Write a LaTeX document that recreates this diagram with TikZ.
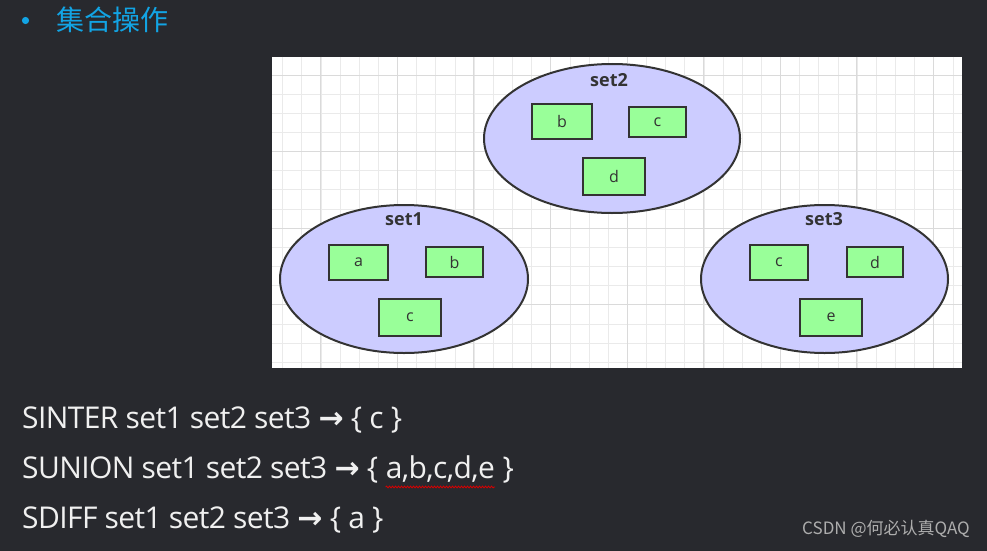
\documentclass[tikz,border=0pt]{standalone}
\usepackage{fontspec}
\setmainfont{Open Sans}
\newfontfamily\cmdfont[LetterSpace=-2]{Open Sans}
\newfontfamily\cjk{Noto Sans CJK SC}
\newfontfamily\arr{DejaVu Sans}
\usetikzlibrary{shapes.geometric,decorations.pathmorphing}
\definecolor{bg}{HTML}{28292E}
\definecolor{cyanT}{HTML}{12A4E4}
\definecolor{setfill}{HTML}{CCCCFF}
\definecolor{elfill}{HTML}{99FF99}
\definecolor{edge}{HTML}{333333}
\definecolor{gridminor}{HTML}{EAEAEA}
\definecolor{gridmajor}{HTML}{DADADA}
\tikzset{
  setshape/.style={ellipse, draw=edge, line width=2pt, fill=setfill, inner sep=0pt},
  elem/.style={rectangle, draw=edge, line width=2.6pt, fill=elfill, inner sep=0pt,
    font=\fontsize{16}{16}\selectfont, text=edge},
  setlabel/.style={font=\fontsize{18}{18}\selectfont\bfseries, text=edge, inner sep=0pt},
  cmd/.style={anchor=base west, inner sep=0pt, text=white!94!black, font=\cmdfont\fontsize{30}{30}\selectfont}
}
\begin{document}
\begin{tikzpicture}[x=1pt,y=-1pt]
\fill[bg] (0,0) rectangle (987,551);
\useasboundingbox (0,0) rectangle (987,551);
% panel
\fill[white] (272,57) rectangle (962,368);
\begin{scope}
\clip (272,57) rectangle (962,368);
\foreach \i in {-1,...,36} {
  \draw[gridminor, line width=0.9pt] ({282.7+19.15*\i},57) -- ({282.7+19.15*\i},368);
}
\foreach \j in {-1,...,16} {
  \draw[gridminor, line width=0.9pt] (272,{75+19.15*\j}) -- (962,{75+19.15*\j});
}
\foreach \i in {-1,...,9} {
  \draw[gridmajor, line width=0.9pt] ({320.7+76.6*\i},57) -- ({320.7+76.6*\i},368);
}
\foreach \j in {0,...,4} {
  \draw[gridmajor, line width=0.9pt] (272,{75+76.6*\j}) -- (962,{75+76.6*\j});
}
\end{scope}
% sets
\node[setshape, minimum width=256pt, minimum height=149pt] (s2) at (612,138.5) {};
\node[setshape, minimum width=248pt, minimum height=148pt] (s1) at (404,279) {};
\node[setshape, minimum width=247pt, minimum height=148pt] (s3) at (824.5,279) {};
\node[setlabel] (l2) at (609,80) {set2};
\node[setlabel] (l1) at (404,219) {set1};
\node[setlabel] (l3) at (824,219) {set3};
% elements set2
\node[elem, minimum width=60pt, minimum height=35pt] (s2b) at (562,121.5) {b};
\node[elem, minimum width=57pt, minimum height=30pt] (s2c) at (657.5,122) {c};
\node[elem, minimum width=62pt, minimum height=37pt] (s2d) at (614,176.5) {d};
% set1
\node[elem, minimum width=59pt, minimum height=35pt] (s1a) at (358.5,262.5) {a};
\node[elem, minimum width=57pt, minimum height=30pt] (s1b) at (454.5,262) {b};
\node[elem, minimum width=62pt, minimum height=37pt] (s1c) at (410,317.5) {c};
% set3
\node[elem, minimum width=58pt, minimum height=35pt] (s3c) at (779,262.5) {c};
\node[elem, minimum width=56pt, minimum height=30pt] (s3d) at (875,262) {d};
\node[elem, minimum width=62pt, minimum height=37pt] (s3e) at (831,317.5) {e};
% title
\fill[cyanT] (25.5,20.5) circle (3.6pt);
\node[anchor=west, inner sep=0pt, text=cyanT, font=\cjk\fontsize{28}{28}\selectfont] (title) at (56,20) {集合操作};
% commands
\node[cmd] (c1) at (22,428) {SINTER set1 set2 set3 {\arr\bfseries →} \{ c \}};
\node[cmd] (c2a) at (22,478) {SUNION set1 set2 set3 {\arr\bfseries →} \{\ \null};
\node[cmd] (c2b) at (c2a.base east) {a,b,c,d,e};
\node[cmd] (c2c) at (c2b.base east) {\null\ \}};
\node[cmd] (c3) at (22,528) {SDIFF set1 set2 set3 {\arr\bfseries →} \{ a \}};
\draw[red!85!black, line width=0.8pt, decorate, decoration={snake, amplitude=0.9pt, segment length=3pt}]
  ([yshift=-9pt]c2b.base west) -- ([yshift=-9pt]c2b.base east);
% watermark
\node[anchor=east, inner sep=0pt, text=white!68!black, font=\cjk\fontsize{17}{17}\selectfont] (wm) at (970,529) {CSDN @何必认真QAQ};
\end{tikzpicture}
\end{document}
